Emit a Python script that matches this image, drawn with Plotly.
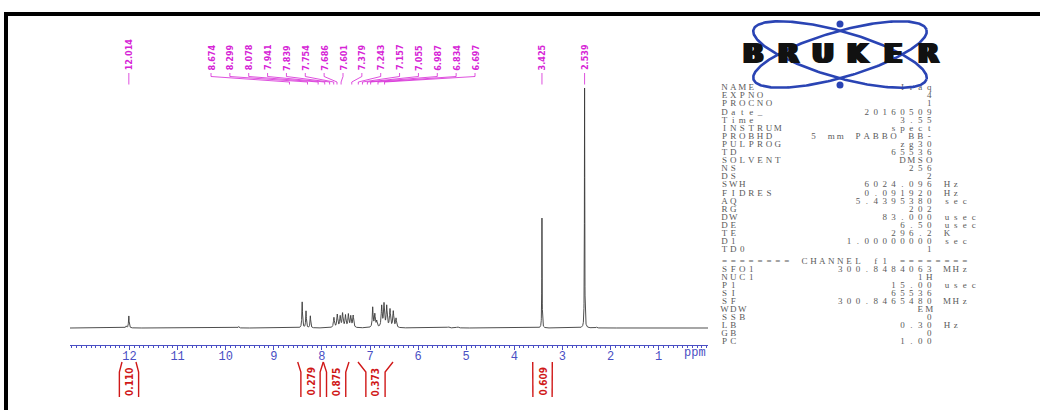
import numpy as np
import plotly.graph_objects as go

W, H = 1040, 410

# ---------------------------------------------------------------- data
# 1H resonances: position (ppm), height (relative, 2.539 = 100), half width (ppm)
peak_ppm = [12.070, 12.014, 9.730,
            8.410, 8.330, 8.240,
            7.750, 7.680, 7.620, 7.570, 7.510, 7.450, 7.400, 7.350,
            6.944, 6.900, 6.860, 6.757, 6.709, 6.653, 6.584, 6.516, 6.459,
            5.370, 5.180, 3.425, 2.539, 2.290]
peak_height = [0.8, 5.0, 0.6,
               10.8, 7.0, 5.0,
               4.2, 5.4, 4.6, 5.8, 5.0, 5.4, 4.6, 5.0,
               8.3, 5.4, 2.5, 8.8, 9.6, 8.8, 7.5, 6.7, 3.8,
               0.5, 0.5, 45.8, 100.0, 0.4]
peak_hwhm = [0.010, 0.008, 0.010,
             0.008, 0.008, 0.008,
             0.012, 0.012, 0.012, 0.012, 0.012, 0.012, 0.012, 0.012,
             0.010, 0.012, 0.012, 0.012, 0.012, 0.012, 0.012, 0.012, 0.012,
             0.020, 0.020, 0.004, 0.004, 0.010]

# peak-picking labels
label_ppm = [12.014, 8.674, 8.299, 8.078, 7.941, 7.839, 7.754, 7.686, 7.601,
             7.379, 7.243, 7.157, 7.055, 6.987, 6.834, 6.697, 3.425, 2.539]
label_text = ["12.014", "8.674", "8.299", "8.078", "7.941", "7.839", "7.754",
              "7.686", "7.601", "7.379", "7.243", "7.157", "7.055", "6.987",
              "6.834", "6.697", "3.425", "2.539"]

# integral regions (ppm) and values
integral_from = [12.156, 8.503, 7.971, 7.250, 3.617]
integral_to = [11.865, 7.971, 7.437, 6.522, 3.210]
integral_value = ["0.110", "0.279", "0.875", "0.373", "0.609"]

# chemical-shift axis
tick_ppm = [12, 11, 10, 9, 8, 7, 6, 5, 4, 3, 2, 1]
tick_text = ["12", "11", "10", "9", "8", "7", "6", "5", "4", "3", "2", "1"]

# acquisition / processing parameters
acq_names = ["NAME", "EXPNO", "PROCNO", "Date_", "Time", "INSTRUM", "PROBHD",
             "PULPROG", "TD", "SOLVENT", "NS", "DS", "SWH", "FIDRES", "AQ",
             "RG", "DW", "DE", "TE", "D1", "TD0"]
acq_values = ["Iraq", "4", "1", "20160509", "3.55", "spect", "5 mm PABBO BB-",
              "zg30", "65536", "DMSO", "256", "2", "6024.096", "0.091920",
              "5.4395380", "202", "83.000", "6.50", "296.2", "1.00000000", "1"]
acq_units = ["", "", "", "", "", "", "", "", "", "", "", "", "Hz", "Hz", "sec",
             "", "usec", "usec", "K", "sec", ""]
channel_title = "======== CHANNEL f1 ========"
chan_names = ["SFO1", "NUC1", "P1", "SI", "SF", "WDW", "SSB", "LB", "GB", "PC"]
chan_values = ["300.8484063", "1H", "15.00", "65536", "300.8465480", "EM",
               "0", "0.30", "0", "1.00"]
chan_units = ["MHz", "", "usec", "", "MHz", "", "", "Hz", "", ""]

logo_letters = ["B", "R", "U", "K", "E", "R"]

# ---------------------------------------------------------------- geometry
BLUE = "#4a4fc4"
MAGENTA = "#d624d6"
RED = "#d01818"
TRACE = "#3a3a3a"
LOGO_BLUE = "#2a44b4"
NARROW = "Liberation Sans Narrow, DejaVu Sans Condensed, sans-serif"

plot_left, plot_right = 70, 708          # px
axis_y, base_y, top_y, bottom_y = 345, 328, 20, 405
px_per_unit = 2.4
ppm_at_left, ppm_at_right = 13.237, -0.027


def yd(py):
    """data y for a pixel row"""
    return (base_y - py) / px_per_unit


fig = go.Figure()

# ---------------------------------------------------------------- spectrum
grid = np.linspace(ppm_at_left, ppm_at_right, 9000)
ppm = np.sort(np.concatenate([grid, np.array(peak_ppm)]))[::-1]
inten = np.zeros_like(ppm)
for p0, h0, w0 in zip(peak_ppm, peak_height, peak_hwhm):
    inten += h0 / (1.0 + ((ppm - p0) / w0) ** 2)

fig.add_trace(go.Scatter(x=ppm, y=inten, mode="lines",
                         line=dict(color=TRACE, width=0.9),
                         hoverinfo="skip", showlegend=False))

# ---------------------------------------------------------------- peak labels
group = [i for i, t in enumerate(label_text) if t not in ("12.014", "3.425", "2.539")]
slots = {}
first_slot = 12 - (211 - 129.5) / 48.1
last_slot = 12 - (475 - 129.5) / 48.1
for k, i in enumerate(group):
    slots[i] = first_slot + (last_slot - first_slot) * k / (len(group) - 1)

label_font = dict(family=NARROW, size=9, color=MAGENTA, weight="bold")
lx, ly = [], []
for i, p in enumerate(label_ppm):
    s = slots.get(i, p)
    if i in slots:
        lx += [s, s, p, p, None]
        ly += [yd(73), yd(76.5), yd(82), yd(84.5), None]
    else:
        lx += [p, p, None]
        ly += [yd(73), yd(84.5), None]
    fig.add_annotation(x=s, y=yd(72.5), xref="x", yref="y", text=label_text[i],
                       textangle=-90, showarrow=False, xanchor="center",
                       yanchor="bottom", font=label_font)
fig.add_trace(go.Scatter(x=lx, y=ly, mode="lines",
                         line=dict(color=MAGENTA, width=0.8),
                         hoverinfo="skip", showlegend=False))

# ---------------------------------------------------------------- integrals
box_half = 0.2
ix, iy = [], []
for a, b, v in zip(integral_from, integral_to, integral_value):
    c = (a + b) / 2
    ix += [a, c + box_half, c + box_half, None, b, c - box_half, c - box_half, None]
    iy += [yd(362), yd(372), yd(397), None, yd(362), yd(372), yd(397), None]
    fig.add_annotation(x=c, y=yd(382), xref="x", yref="y", text=v,
                       textangle=-90, showarrow=False, xanchor="center", yanchor="middle",
                       font=dict(family=NARROW, size=10, color=RED, weight="bold"))
fig.add_trace(go.Scatter(x=ix, y=iy, mode="lines",
                         line=dict(color=RED, width=1.4),
                         hoverinfo="skip", showlegend=False))

fig.add_annotation(x=695 / W, y=1 - 353 / H, xref="paper", yref="paper",
                   text="ppm", showarrow=False, xanchor="center", yanchor="middle",
                   font=dict(family="Liberation Mono, monospace", size=12, color=BLUE))

# ---------------------------------------------------------------- parameter block
cw = 8.9
col0 = 720
px_, py_, ch_ = [], [], []


def put(text, col, row_y):
    for k, c in enumerate(text):
        if c != " ":
            px_.append(col0 + (col + k) * cw + cw / 2)
            py_.append(row_y)
            ch_.append(c)


for r, (n, v, u) in enumerate(zip(acq_names, acq_values, acq_units)):
    y = 88 + r * 8.1
    put(n, 0, y)
    put(v, 24 - len(v), y)
    put(u, 25, y)
put(channel_title, 0, 261.5)
for r, (n, v, u) in enumerate(zip(chan_names, chan_values, chan_units)):
    y = 270 + r * 8.0
    put(n, 0, y)
    put(v, 24 - len(v), y)
    put(u, 25, y)

fig.add_trace(go.Scatter(x=px_, y=py_, text=ch_, mode="text",
                         textposition="middle center",
                         textfont=dict(family="Liberation Serif, serif", size=9, color="#5a5a5a"),
                         xaxis="x2", yaxis="y2", hoverinfo="skip", showlegend=False))

# ---------------------------------------------------------------- logo
cx, cy = 840, 54.5
t = np.linspace(0, 2 * np.pi, 241)
ex, ey = [], []
for ang in (16, -16):
    th = np.radians(ang)
    a_, b_ = 90, 23
    xs = a_ * np.cos(t)
    ys = b_ * np.sin(t)
    ex += list(cx + xs * np.cos(th) - ys * np.sin(th)) + [None]
    ey += list(cy + xs * np.sin(th) + ys * np.cos(th)) + [None]
fig.add_trace(go.Scatter(x=ex, y=ey, mode="lines", line=dict(color=LOGO_BLUE, width=2.6),
                         xaxis="x2", yaxis="y2", hoverinfo="skip", showlegend=False))
fig.add_trace(go.Scatter(x=[840, 840], y=[24, 85], mode="markers",
                         marker=dict(color=LOGO_BLUE, size=7),
                         xaxis="x2", yaxis="y2", hoverinfo="skip", showlegend=False))
for k, letter in enumerate(logo_letters):
    fig.add_annotation(x=753 + 35 * k, y=53, xref="x2", yref="y2", text=letter,
                       showarrow=False, xanchor="center", yanchor="middle",
                       font=dict(family="DejaVu Sans, sans-serif", size=27, color="#111111",
                                 weight="bold",
                                 shadow="2px 0px 0px #111111, -2px 0px 0px #111111"))

# ---------------------------------------------------------------- frame
fig.add_shape(type="rect", xref="paper", yref="paper", x0=4 / W, x1=1, y0=1 - 16 / H, y1=1 - 12 / H,
              fillcolor="black", line=dict(width=0), layer="above")
fig.add_shape(type="rect", xref="paper", yref="paper", x0=4 / W, x1=8 / W, y0=0, y1=1 - 12 / H,
              fillcolor="black", line=dict(width=0), layer="above")

fig.update_layout(
    width=W, height=H,
    margin=dict(l=0, r=0, t=0, b=0),
    paper_bgcolor="white", plot_bgcolor="rgba(0,0,0,0)",
    showlegend=False,
    xaxis=dict(domain=[plot_left / W, plot_right / W], range=[ppm_at_left, ppm_at_right],
               anchor="free", position=(H - axis_y) / H,
               showline=True, linecolor=BLUE, linewidth=1,
               ticks="outside", ticklen=4, tickcolor=BLUE, tickwidth=1,
               tickmode="array", tickvals=tick_ppm, ticktext=tick_text,
               ticklabelstandoff=-4,
               tickfont=dict(family="Liberation Mono, monospace", size=12, color=BLUE),
               showgrid=False, zeroline=False, fixedrange=True,
               minor=dict(ticks="outside", ticklen=2, tickcolor=BLUE, tick0=0, dtick=0.1,
                          showgrid=False)),
    yaxis=dict(domain=[(H - bottom_y) / H, (H - top_y) / H],
               range=[yd(bottom_y), yd(top_y)], visible=False, fixedrange=True),
    xaxis2=dict(domain=[0, 1], range=[0, W], visible=False, anchor="y2", fixedrange=True),
    yaxis2=dict(domain=[0, 1], range=[H, 0], visible=False, anchor="x2", fixedrange=True),
)

fig.write_html("out.html")
